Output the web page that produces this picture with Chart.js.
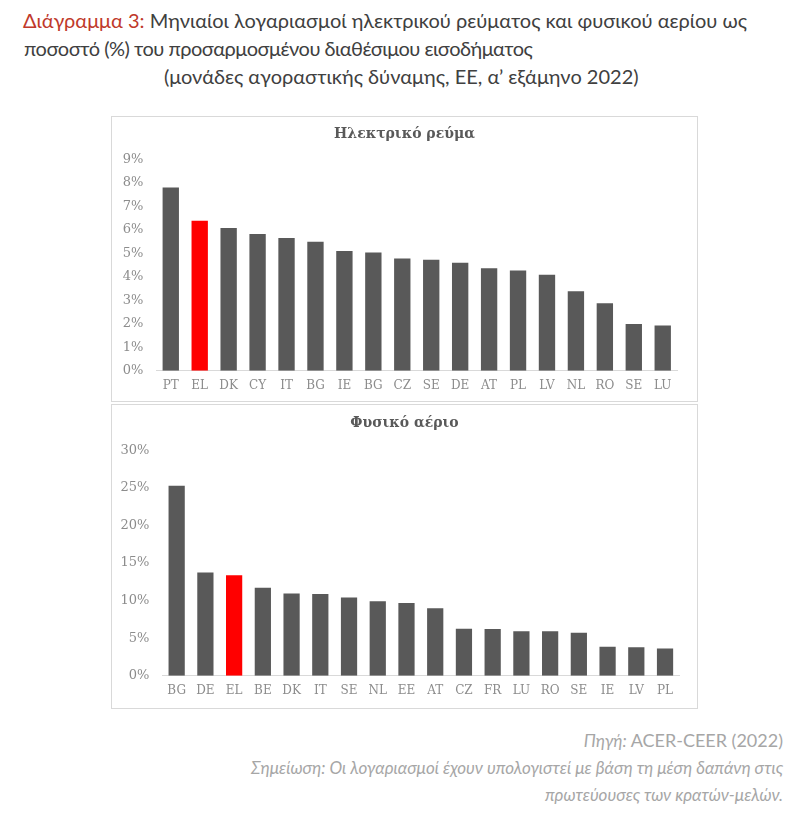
<!DOCTYPE html>
<html>
<head>
<meta charset="utf-8">
<script src="https://cdn.jsdelivr.net/npm/chart.js@4.4.0/dist/chart.umd.min.js"></script>
<style>
  html, body { margin: 0; padding: 0; background: #ffffff; }
  body { width: 800px; height: 827px; position: relative; overflow: hidden; font-family: Lato, "Open Sans", sans-serif; }
  .t { position: absolute; white-space: nowrap; color: #404040; font-size: 20px; line-height: 28px; }
  .red { color: #C0392B; }
  .box { position: absolute; border: 1px solid #d9d9d9; background: #fff; }
  .box canvas { display: block; }
  .foot { position: absolute; right: 17px; white-space: nowrap; color: #a6a6a6; font-size: 17px; line-height: 24px; font-style: italic; }
</style>
</head>
<body>
<div class="t" style="left:23px; top:6px;"><span class="red">Διάγραμμα 3:</span> Μηνιαίοι λογαριασμοί ηλεκτρικού ρεύματος και φυσικού αερίου ως</div>
<div class="t" style="left:24px; top:34px; letter-spacing:-0.5px;">ποσοστό (%) του προσαρμοσμένου διαθέσιμου εισοδήματος</div>
<div class="t" style="left:164px; top:62px;">(μονάδες αγοραστικής δύναμης, ΕΕ, α’ εξάμηνο 2022)</div>

<div class="box" style="left:111px; top:116px; width:585px; height:284px;"><canvas id="c1" width="585" height="284"></canvas></div>
<div class="box" style="left:111px; top:404px; width:585px; height:303px;"><canvas id="c2" width="585" height="303"></canvas></div>

<div class="foot" style="top:728px;">Πηγή: <span style="font-style:normal; font-size:18px;">ACER-CEER (2022)</span></div>
<div class="foot" style="top:756px;">Σημείωση: Οι λογαριασμοί έχουν υπολογιστεί με βάση τη μέση δαπάνη στις</div>
<div class="foot" style="top:783px;">πρωτεύουσες των κρατών-μελών.</div>

<script>
// ---- Data ----
const elecCategories = ["PT","EL","DK","CY","IT","BG","IE","BG","CZ","SE","DE","AT","PL","LV","NL","RO","SE","LU"];
const elecValues = [7.81, 6.39, 6.08, 5.83, 5.66, 5.49, 5.10, 5.04, 4.78, 4.73, 4.60, 4.37, 4.27, 4.09, 3.39, 2.87, 1.99, 1.93];
const elecTicks = ["0%","1%","2%","3%","4%","5%","6%","7%","8%","9%"];

const gasCategories = ["BG","DE","EL","BE","DK","IT","SE","NL","EE","AT","CZ","FR","LU","RO","SE","IE","LV","PL"];
const gasValues = [25.3, 13.76, 13.37, 11.73, 10.94, 10.9, 10.41, 9.93, 9.7, 9.0, 6.26, 6.22, 5.91, 5.91, 5.73, 3.84, 3.79, 3.62];
const gasTicks = ["0%","5%","10%","15%","20%","25%","30%"];

const highlight = "EL";
const barGray = "#595959";
const barRed = "#FF0000";

Chart.defaults.animation = false;
Chart.defaults.devicePixelRatio = 1;

function makeChart(id, title, cats, vals, tickLabels, maxV, step, yWidth, xHeight, rightPad, titlePad) {
  const colors = cats.map(c => c === highlight ? barRed : barGray);
  return new Chart(document.getElementById(id), {
    type: 'bar',
    data: {
      labels: cats,
      datasets: [{
        data: vals,
        backgroundColor: colors,
        borderWidth: 0,
        barPercentage: 0.565,
        categoryPercentage: 1.0
      }]
    },
    options: {
      responsive: false,
      maintainAspectRatio: false,
      layout: { padding: 0 },
      plugins: {
        legend: { display: false },
        tooltip: { enabled: false },
        title: {
          display: true,
          text: title,
          color: '#595959',
          font: { family: '"DejaVu Serif", serif', size: 14, weight: 'bold', lineHeight: 1.2 },
          padding: titlePad
        }
      },
      scales: {
        x: {
          grid: { display: false, drawTicks: false },
          border: { display: true, color: '#d9d9d9', width: 1 },
          ticks: { color: '#8c8c8c', font: { family: '"DejaVu Serif", serif', size: 12 }, padding: 8, maxRotation: 0, autoSkip: false },
          afterFit: s => { s.height = xHeight; }
        },
        y: {
          min: 0, max: maxV,
          grid: { display: false, drawTicks: false },
          border: { display: false },
          ticks: {
            stepSize: step,
            color: '#8c8c8c',
            font: { family: '"DejaVu Serif", serif', size: 13 },
            padding: 13,
            callback: (v, i) => tickLabels[i]
          },
          afterFit: s => { s.width = yWidth; }
        },
        yRight: {
          position: 'right',
          min: 0, max: maxV,
          grid: { display: false, drawTicks: false },
          border: { display: false },
          ticks: { display: false },
          afterFit: s => { s.width = rightPad; }
        }
      }
    }
  });
}

makeChart('c1', 'Ηλεκτρικό ρεύμα', elecCategories, elecValues, elecTicks, 9, 1, 44.3, 30.3, 19.8, { top: 9.1, bottom: 16.6 });
makeChart('c2', 'Φυσικό αέριο', gasCategories, gasValues, gasTicks, 30, 5, 50.3, 32.3, 17.6, { top: 9.9, bottom: 18.8 });
</script>
</body>
</html>
